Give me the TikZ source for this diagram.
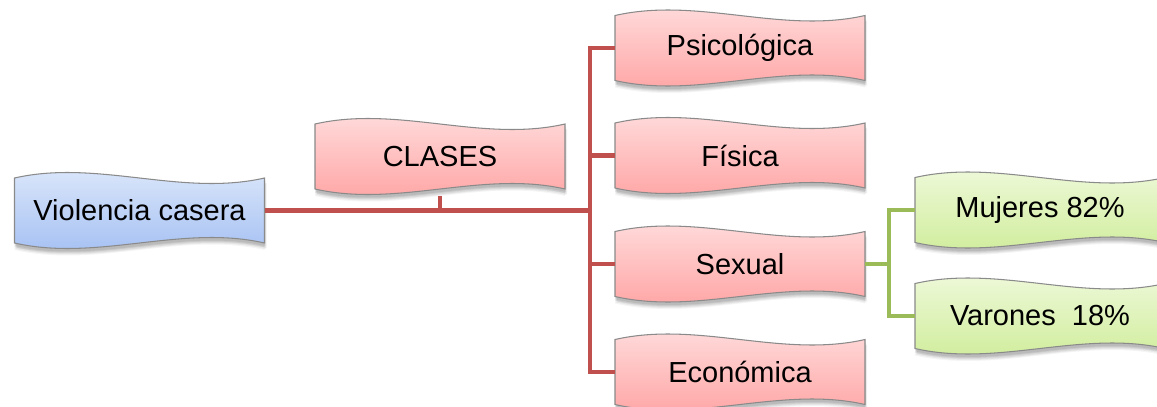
\documentclass[tikz,border=0pt]{standalone}
\usepackage{fontspec}
\setmainfont{Liberation Sans}
\definecolor{redln}{HTML}{C0504D}
\definecolor{grnln}{HTML}{9BBB59}
\definecolor{pinkT}{HTML}{FFE0E0}
\definecolor{pinkB}{HTML}{FFA0A0}
\definecolor{blueT}{HTML}{E0EAFB}
\definecolor{blueB}{HTML}{A0BDF2}
\definecolor{grnT}{HTML}{F1FADF}
\definecolor{grnB}{HTML}{CDEC96}
\definecolor{bordc}{HTML}{8A8A8A}
\tikzset{
  boxnode/.style={minimum width=5cm, minimum height=1.3cm, inner sep=0pt, draw=none},
  boxtext/.style={font=\fontsize{16.5}{20}\selectfont, inner sep=0pt},
  redline/.style={draw=redln, line width=2.6pt},
  grnline/.style={draw=grnln, line width=2.6pt},
}
% wave outline centred on (#1,#2), in pixel units
\newcommand\wavepath[2]{%
  ({#1-125},{#2-32.5}) .. controls ({#1-41.7},{#2-32.5-19}) and ({#1+41.7},{#2-32.5+19}) .. ({#1+125},{#2-32.5})
  -- ({#1+125},{#2+32.5}) .. controls ({#1+41.7},{#2+32.5-19}) and ({#1-41.7},{#2+32.5+19}) .. ({#1-125},{#2+32.5}) -- cycle}
% #1 name, #2 cx, #3 cy, #4 top colour, #5 bottom colour, #6 text
\newcommand\wavebox[6]{%
  \node[boxnode] (#1) at (#2,#3) {};
  \foreach \dx/\dy/\op in {0/7/0.04, 1/6/0.05, 2/5/0.06, 0/4/0.07, 1/3/0.08}{%
    \fill[black, opacity=\op, shift={(\dx,\dy)}] \wavepath{#2}{#3};
  }
  \shade[top color=#4, bottom color=#5, draw=bordc, line width=0.6pt] \wavepath{#2}{#3};
  \node[boxtext] (#1-t) at (#1.center) {#6};
}
\begin{document}
\begin{tikzpicture}[x=0.02cm, y=-0.02cm]
\useasboundingbox (0,0) rectangle (1157,406);
\clip (0,0) rectangle (1157,406);
\fill[white] (0,0) rectangle (1157,406);
\wavebox{vc}{139.5}{210.5}{blueT}{blueB}{Violencia casera}
\wavebox{cl}{440}{156.5}{pinkT}{pinkB}{CLASES}
\wavebox{ps}{740}{48}{pinkT}{pinkB}{Psicológica}
\wavebox{fi}{740}{155.5}{pinkT}{pinkB}{Física}
\wavebox{se}{740}{264}{pinkT}{pinkB}{Sexual}
\wavebox{ec}{740}{372}{pinkT}{pinkB}{Económica}
\wavebox{mu}{1040}{210}{grnT}{grnB}{Mujeres 82\%}
\wavebox{va}{1040}{316}{grnT}{grnB}{Varones\ \ 18\%}
\coordinate (sp) at (590,210.5);
\coordinate (gs) at (889,264);
% red connectors
\draw[redline] (vc.east) -- (sp);
\draw[redline] ([yshift=-0.14cm]cl.south) -- (cl.south |- sp);
\draw[redline] (ps.west) -- (ps.west -| sp) -- (ec.west -| sp) -- (ec.west);
\draw[redline] (fi.west) -- (fi.west -| sp);
\draw[redline] (se.west) -- (se.west -| sp);
% green connectors
\draw[grnline] (se.east) -- (gs);
\draw[grnline] (mu.west) -- (mu.west -| gs) -- (va.west -| gs) -- (va.west);
\end{tikzpicture}
\end{document}
